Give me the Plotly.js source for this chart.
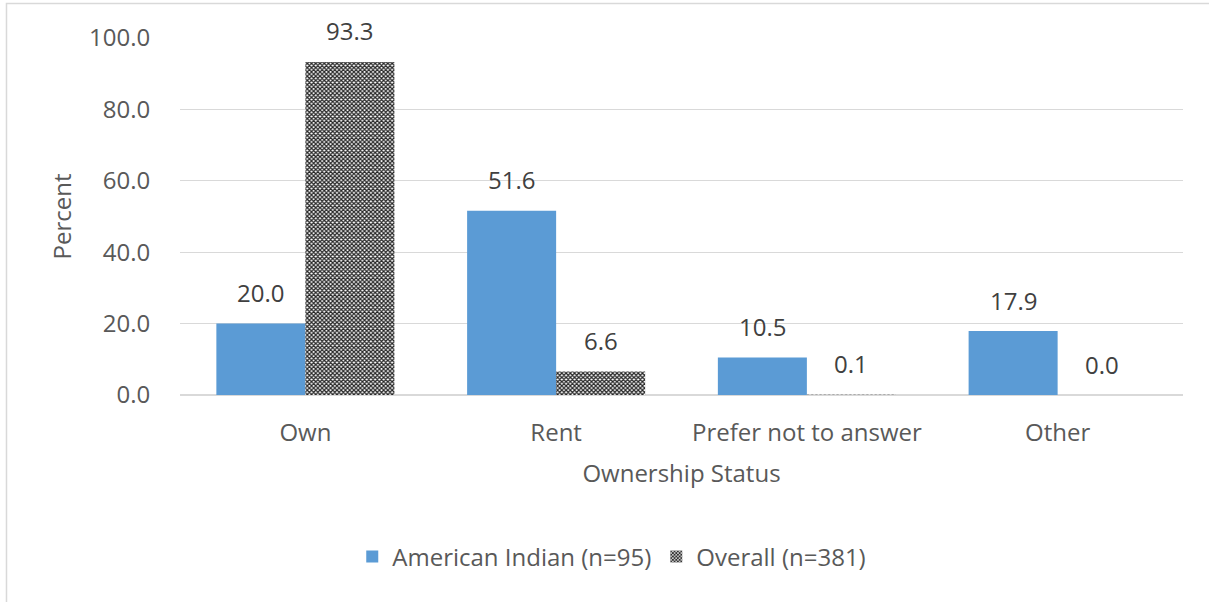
<!DOCTYPE html>
<html>
<head>
<meta charset="utf-8">
<script src="https://cdn.plot.ly/plotly-3.0.1.min.js"></script>
<style>
html,body{margin:0;padding:0;background:#fff;}
#chart{width:1209px;height:602px;}
</style>
</head>
<body>
<div id="chart"></div>
<script>
const categories = ["Own", "Rent", "Prefer not to answer", "Other"];
const americanIndian = [20.0, 51.6, 10.5, 17.9];
const overall = [93.3, 6.6, 0.1, 0.0];
const seriesNames = ["American Indian (n=95)", "Overall (n=381)"];
const yTicks = [0, 20, 40, 60, 80, 100];
const yTickLabels = ["0.0", "20.0", "40.0", "60.0", "80.0", "100.0"];

const FONT = "'Open Sans', sans-serif";
const TXT = "#595959";
const FS = 24;

const traces = [
  {
    type: "bar",
    name: seriesNames[0],
    x: categories,
    y: americanIndian,
    marker: {color: "#5b9bd5"}
  },
  {
    type: "bar",
    name: seriesNames[1],
    x: categories,
    y: overall,
    marker: {
      color: "#ffffff",
      line: {width: 0},
      pattern: {shape: "x", size: 3, solidity: 0.65, fgcolor: "#262626", bgcolor: "#ffffff"}
    }
  }
];

const annotations = [];
[americanIndian, overall].forEach((vals, s) => {
  vals.forEach((v, i) => {
    annotations.push({
      x: categories[i], y: v, xref: "x", yref: "y",
      text: v.toFixed(1), showarrow: false,
      xshift: s === 0 ? -44.5 : 44.5, yshift: 31,
      xanchor: "center", yanchor: "middle",
      font: {family: FONT, size: FS, color: "#404040"}
    });
  });
});

const layout = {
  width: 1209,
  height: 602,
  margin: {l: 180, r: 26, t: 38, b: 207, autoexpand: false},
  paper_bgcolor: "#ffffff",
  plot_bgcolor: "#ffffff",
  font: {family: FONT, color: TXT, size: FS},
  barmode: "group",
  bargap: 0.29,
  bargroupgap: 0,
  showlegend: true,
  legend: {
    orientation: "h",
    xref: "container", yref: "container",
    x: 0.506, xanchor: "center",
    y: 0.075, yanchor: "middle",
    font: {family: FONT, size: FS, color: TXT},
    itemwidth: 30
  },
  annotations: annotations,
  xaxis: {
    type: "category",
    automargin: false,
    tickangle: 0,
    showgrid: false,
    showline: false,
    ticks: "outside",
    ticklen: 16,
    tickcolor: "rgba(0,0,0,0)",
    tickfont: {family: FONT, size: FS, color: TXT},
    title: {text: "Ownership Status", font: {family: FONT, size: FS, color: TXT}, standoff: 18}
  },
  yaxis: {
    automargin: false,
    range: [0, 100],
    tickvals: yTicks,
    ticktext: yTickLabels,
    showgrid: true,
    gridcolor: "#d9d9d9",
    gridwidth: 1.3,
    zeroline: true,
    zerolinecolor: "#d9d9d9",
    zerolinewidth: 1.3,
    showline: false,
    ticks: "outside",
    ticklen: 24,
    tickcolor: "rgba(0,0,0,0)",
    tickfont: {family: FONT, size: FS, color: TXT},
    title: {text: "Percent", font: {family: FONT, size: FS, color: TXT}, standoff: 10}
  },
  shapes: [{
    type: "rect", xref: "paper", yref: "paper",
    x0: -0.173, x1: 1.05, y0: -0.7, y1: 1.0966,
    line: {color: "#d9d9d9", width: 1.5},
    fillcolor: "rgba(0,0,0,0)",
    layer: "below"
  }]
};

Plotly.newPlot("chart", traces, layout, {displayModeBar: false, staticPlot: true});
</script>
</body>
</html>
